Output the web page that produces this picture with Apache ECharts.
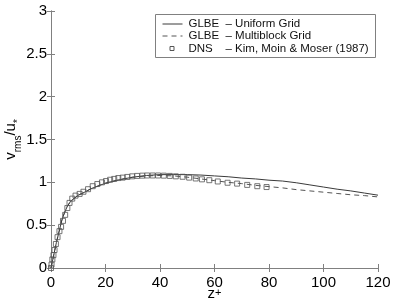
<!DOCTYPE html>
<html>
<head>
<meta charset="utf-8">
<script src="https://cdn.jsdelivr.net/npm/echarts@6/dist/echarts.min.js"></script>
<style>
html,body{margin:0;padding:0;background:#fff;}
#chart{width:393px;height:304px;}
</style>
</head>
<body>
<div id="chart"></div>
<script>
// ---- data ----
var uniformZ = [0, 1, 2, 3, 4, 5, 6, 7, 8, 10, 12, 15, 20, 25, 30, 35, 40, 45, 50, 55, 60, 65, 70, 75, 80, 85, 90, 95, 100, 105, 110, 115, 120];
var uniformV = [0, 0.15, 0.30, 0.43, 0.56, 0.65, 0.72, 0.77, 0.80, 0.85, 0.88, 0.93, 0.99, 1.03, 1.06, 1.08, 1.09, 1.09, 1.09, 1.085, 1.075, 1.065, 1.05, 1.04, 1.025, 1.015, 0.995, 0.97, 0.945, 0.92, 0.90, 0.875, 0.85];

var multiZ = [0, 1, 2, 3, 4, 5, 6, 7, 8, 10, 12, 15, 20, 25, 30, 35, 40, 45, 50, 55, 60, 65, 70, 75, 80, 85, 90, 95, 100, 105, 110, 115, 120];
var multiV = [0, 0.15, 0.30, 0.43, 0.56, 0.65, 0.72, 0.77, 0.80, 0.85, 0.88, 0.93, 0.99, 1.03, 1.06, 1.075, 1.08, 1.075, 1.06, 1.04, 1.02, 1.0, 0.985, 0.965, 0.95, 0.935, 0.915, 0.90, 0.885, 0.87, 0.855, 0.845, 0.83];

var dnsZ = [0, 0.2, 0.5, 0.9, 1.3, 1.8, 2.4, 3.1, 3.7, 4.4, 5.2, 6.0, 6.8, 7.8, 9.0, 10.5, 11.9, 13.6, 15.3, 17.0, 18.7, 20.2, 21.7, 23.2, 24.7, 26.3, 28.0, 29.8, 31.6, 33.5, 35.3, 37.3, 39.3, 41.4, 43.6, 45.8, 48.3, 50.7, 53.1, 55.4, 58.1, 61.2, 64.8, 68.3, 72.0, 75.7, 79.1];
var dnsV = [0.0, 0.04, 0.10, 0.15, 0.21, 0.28, 0.36, 0.43, 0.48, 0.55, 0.62, 0.70, 0.76, 0.81, 0.845, 0.865, 0.89, 0.92, 0.955, 0.98, 1.0, 1.015, 1.03, 1.04, 1.05, 1.055, 1.063, 1.07, 1.075, 1.078, 1.08, 1.08, 1.08, 1.078, 1.075, 1.07, 1.065, 1.055, 1.045, 1.035, 1.025, 1.01, 0.995, 0.985, 0.97, 0.955, 0.945];

var xTicks = [0, 20, 40, 60, 80, 100, 120];
var yTicks = [0, 0.5, 1, 1.5, 2, 2.5, 3];

var legendNames = ['GLBE', 'GLBE', 'DNS'];
var legendDescs = ['\u2013 Uniform Grid', '\u2013 Multiblock Grid', '\u2013 Kim, Moin & Moser (1987)'];

function pairs(xs, ys) { return xs.map(function (x, i) { return [x, ys[i]]; }); }

var FONT = 'Liberation Sans, Arial, Helvetica, sans-serif';
var AXIS_COLOR = '#808080';

var chart = echarts.init(document.getElementById('chart'), null, {renderer: 'canvas'});

var baseAxis = {
  axisLine: {show: true, lineStyle: {color: AXIS_COLOR, width: 1}},
  axisTick: {show: true, inside: true, length: 4, lineStyle: {color: AXIS_COLOR}},
  splitLine: {show: false}
};

var option = {
  animation: false,
  backgroundColor: '#ffffff',
  grid: {left: 51, right: 15, top: 11, bottom: 36, containLabel: false, outerBoundsMode: 'none'},
  xAxis: [
    Object.assign({}, baseAxis, {
      type: 'value', min: xTicks[0], max: xTicks[xTicks.length - 1], interval: 20, position: 'bottom',
      axisLabel: {color: '#000', fontSize: 15, fontFamily: FONT, margin: 7},
      name: '{z|z}{p|+}', nameLocation: 'middle', nameGap: 19, nameMoveOverlap: false,
      nameTextStyle: {
        rich: {
          z: {fontSize: 15, fontFamily: FONT, color: '#000', verticalAlign: 'bottom', lineHeight: 14},
          p: {fontSize: 11, fontFamily: FONT, color: '#000', verticalAlign: 'top', lineHeight: 14}
        }
      }
    }),
    Object.assign({}, baseAxis, {
      type: 'value', min: xTicks[0], max: xTicks[xTicks.length - 1], interval: 20, position: 'top',
      axisLabel: {show: false}
    })
  ],
  yAxis: [
    Object.assign({}, baseAxis, {
      type: 'value', min: yTicks[0], max: yTicks[yTicks.length - 1], interval: 0.5, position: 'left',
      axisLabel: {color: '#000', fontSize: 15, fontFamily: FONT, margin: 4},
      name: '{v|v}{s|rms}{v|/u}{s|*}', nameLocation: 'middle', nameGap: 28, nameRotate: 90, nameMoveOverlap: false,
      nameTextStyle: {
        rich: {
          v: {fontSize: 15, fontFamily: FONT, color: '#000', verticalAlign: 'top', lineHeight: 20},
          s: {fontSize: 10, fontFamily: FONT, color: '#000', verticalAlign: 'bottom', lineHeight: 20}
        }
      }
    }),
    Object.assign({}, baseAxis, {
      type: 'value', min: yTicks[0], max: yTicks[yTicks.length - 1], interval: 0.5, position: 'right',
      axisLabel: {show: false}
    })
  ],
  series: [
    {
      name: 'GLBE \u2013 Uniform Grid', type: 'line', xAxisIndex: 0, yAxisIndex: 0,
      data: pairs(uniformZ, uniformV), showSymbol: false, symbol: 'none',
      lineStyle: {color: '#3a3a3a', width: 1, type: 'solid'}, z: 3
    },
    {
      name: 'GLBE \u2013 Multiblock Grid', type: 'line', xAxisIndex: 0, yAxisIndex: 0,
      data: pairs(multiZ, multiV), showSymbol: false, symbol: 'none',
      lineStyle: {color: '#555555', width: 1, type: [5, 4]}, z: 2
    },
    {
      name: 'DNS \u2013 Kim, Moin & Moser (1987)', type: 'scatter', xAxisIndex: 0, yAxisIndex: 0,
      data: pairs(dnsZ, dnsV), symbol: 'rect', symbolSize: 5,
      itemStyle: {color: 'rgba(255,255,255,0)', borderColor: '#555555', borderWidth: 1}, z: 4
    }
  ],
  graphic: [
    {
      type: 'group', left: 155, top: 14, z: 100,
      children: [
        {type: 'rect', shape: {x: 0, y: 0, width: 220, height: 43}, style: {fill: '#fff', stroke: AXIS_COLOR, lineWidth: 1}},
        {type: 'line', shape: {x1: 7, y1: 9.5, x2: 27, y2: 9.5}, style: {stroke: '#3a3a3a', lineWidth: 1}},
        {type: 'line', shape: {x1: 7, y1: 21.5, x2: 27, y2: 21.5}, style: {stroke: '#555', lineWidth: 1, lineDash: [5, 4]}},
        {type: 'rect', shape: {x: 14.5, y: 32, width: 4, height: 4}, style: {fill: '#fff', stroke: '#555', lineWidth: 1}},
        {type: 'text', x: 33, y: 9.5, style: {text: legendNames[0], font: '11.5px ' + FONT, fill: '#111', verticalAlign: 'middle'}},
        {type: 'text', x: 33, y: 21.5, style: {text: legendNames[1], font: '11.5px ' + FONT, fill: '#111', verticalAlign: 'middle'}},
        {type: 'text', x: 33, y: 34, style: {text: legendNames[2], font: '11.5px ' + FONT, fill: '#111', verticalAlign: 'middle'}},
        {type: 'text', x: 70, y: 9.5, style: {text: legendDescs[0], font: '11.5px ' + FONT, fill: '#111', verticalAlign: 'middle'}},
        {type: 'text', x: 70, y: 21.5, style: {text: legendDescs[1], font: '11.5px ' + FONT, fill: '#111', verticalAlign: 'middle'}},
        {type: 'text', x: 70, y: 34, style: {text: legendDescs[2], font: '11.5px ' + FONT, fill: '#111', verticalAlign: 'middle'}}
      ]
    }
  ]
};
chart.setOption(option);
</script>
</body>
</html>
